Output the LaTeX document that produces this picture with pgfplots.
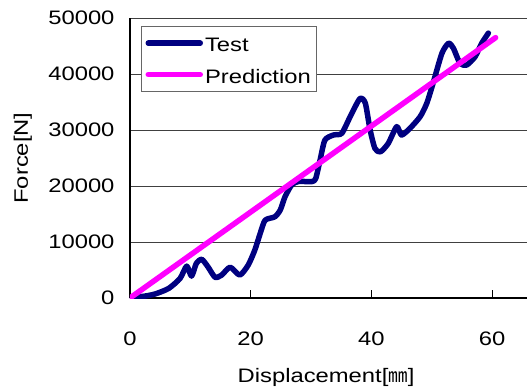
\documentclass[border=0pt]{standalone}
\usepackage{pgfplots}
\pgfplotsset{compat=1.18}
\usepackage{fontspec}
\setmainfont{Liberation Sans}[FakeStretch=1.22]
\newfontfamily\jp{Noto Sans CJK JP}
\definecolor{testc}{RGB}{0,0,128}
\definecolor{predc}{RGB}{255,0,255}
\newcommand{\chfont}{\fontsize{19.5bp}{23bp}\selectfont}
\begin{document}
\begin{tikzpicture}
\useasboundingbox (-130bp,-91bp) rectangle (397bp,298bp);
\begin{axis}[
  at={(0,0)}, anchor=south west,
  scale only axis, width=397bp, height=280bp,
  xmin=0, xmax=65.8, ymin=0, ymax=50000,
  xtick={0,20,40,60}, ytick={0,10000,...,50000},
  scaled y ticks=false,
  /pgf/number format/assume math mode=true,
  /pgf/number format/set thousands separator={},
  axis lines*=left,
  axis line style={black, line width=1.6bp},
  tick align=inside, major tick length=8bp,
  tick style={black, line width=1bp},
  ytick style={draw=none},
  ymajorgrids, grid style={black!75, line width=1bp},
  ticklabel style={font=\chfont},
  xticklabel style={yshift=-30bp},
  yticklabel style={xshift=-12bp},
  xlabel={Displacement[{\jp ㎜}]},
  ylabel={Force[N]},
  every axis x label/.style={at={(axis description cs:0.494,-0.282)}, anchor=center, font=\chfont},
  every axis y label/.style={at={(axis description cs:-0.27,0.5)}, rotate=90, anchor=center, font=\chfont},
  legend style={at={(axis description cs:0.028,0.971)}, anchor=north west,
    draw=black!60, line width=0.8bp, font=\chfont, fill=white,
    inner xsep=4bp, inner ysep=5bp, row sep=8bp,
    nodes={text height=18.4bp, text depth=1bp}},
  legend cell align=left,
  legend image code/.code={\draw[#1, line width=5.5bp, line cap=round] (0bp,0bp) -- (52bp,0bp);},
]
\addplot[testc, line width=5.5bp, line join=round, line cap=round, smooth, tension=0.4] coordinates {
(0.3,100) (2.2,300) (4.1,700) (6.4,1700) (8.3,3500) (9.4,5700) (10.2,3900) (11.0,6200) (11.9,6900)
(12.9,5600) (14.1,3700) (15.2,4100) (16.6,5500) (18.2,4100) (19.6,5900) (20.7,8600) (21.6,11600)
(22.4,13900) (24.0,14500) (24.9,15700) (25.7,18100) (26.8,20200) (27.9,20800) (30.2,20800)
(30.8,21400) (31.5,24600) (32.3,28200) (33.7,29100) (35.1,29400) (36.5,32400) (38.1,35600)
(39.0,34800) (39.8,30000) (40.6,26700) (41.5,26100) (42.8,27600) (44.2,30600)
(45.0,29100) (46.4,30300) (48.1,32400) (49.2,34800) (50.3,38600) (51.7,43700)
(52.8,45500) (53.6,44600) (54.7,41900) (55.8,41600) (57.2,43100) (58.3,45500) (59.4,47300)
};
\addlegendentry{Test}
\addplot[predc, line width=5.5bp, line cap=round] coordinates {(0,0) (60.6,46500)};
\addlegendentry{Prediction}
\end{axis}
\end{tikzpicture}
\end{document}
